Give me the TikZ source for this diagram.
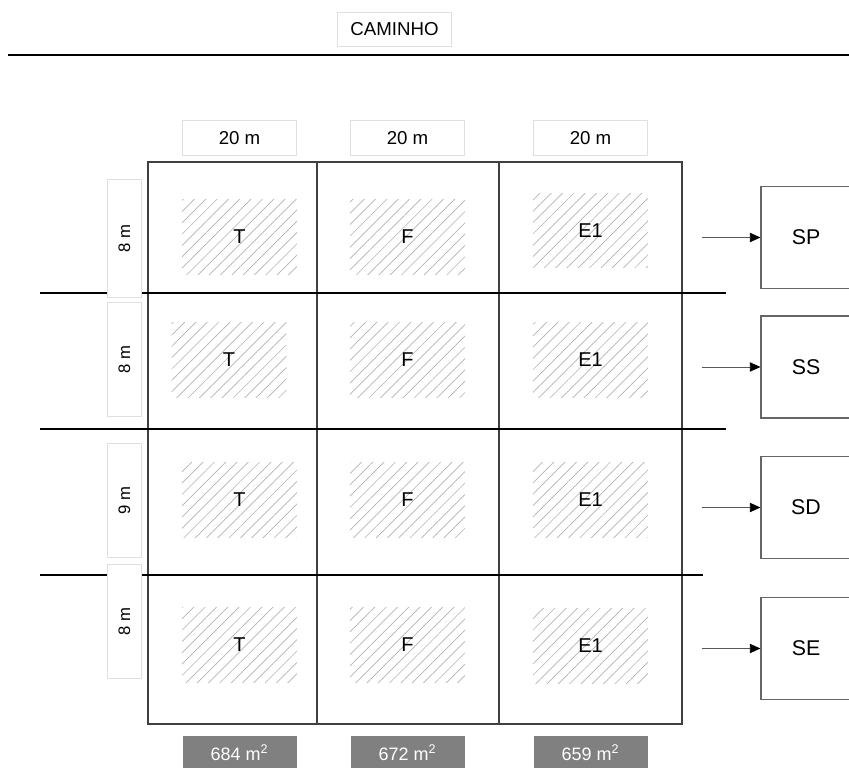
\documentclass[tikz,border=0pt]{standalone}
\usepackage{fontspec}
\setmainfont{Liberation Sans}
\usetikzlibrary{
  arrows.meta,
  calc,
  positioning,
  patterns.meta,
}

\begin{document}
\begin{tikzpicture}[
  x=0.75pt, y=-0.75pt,
  tag/.style={draw=gray!25, fill=white, inner sep=0pt, line width=0.6pt, font=\fontsize{14}{16}\selectfont},
  side/.style={tag, minimum height=26pt, font=\fontsize{12.5}{14}\selectfont},
  plot/.style={inner sep=0pt, minimum width=86pt, minimum height=56pt,
    pattern={Lines[angle=45, distance=6pt, line width=0.5pt]}, pattern color=gray!60,
    font=\fontsize{15}{17}\selectfont},
  sample/.style={draw=gray!80!black, line width=0.8pt, fill=white, inner sep=0pt,
    minimum width=67.5pt, font=\fontsize{16}{18}\selectfont},
  area/.style={fill=gray, text=white, inner sep=0pt,
    minimum width=85.5pt, minimum height=25.5pt, font=\fontsize{13.5}{15}\selectfont},
  road/.style={line width=2pt, black},
  cell/.style={line width=0.8pt, draw=black!75},
  feed/.style={line width=0.7pt, gray!70!black, -{Triangle[length=8pt, width=7pt, black]}}
]
\useasboundingbox (0,0) rectangle (849,767);

% caminho
\node[tag, minimum width=86pt, minimum height=25.5pt] (caminho) at (394.5,29) {CAMINHO};
\draw[road] (8,55) -- (849,55);

% largura das parcelas
\node[tag, minimum width=86pt, minimum height=26pt] (w1) at (239.5,138) {20 m};
\node[tag, minimum width=86pt, minimum height=26pt] (w2) at (407.5,138) {20 m};
\node[tag, minimum width=86pt, minimum height=26pt] (w3) at (590.5,138) {20 m};

% area experimental
\draw[cell] (148,162) rectangle (682,724);
\draw[cell] (317,162) -- (317,724);
\draw[cell] (499,162) -- (499,724);
\draw[road] (40,293) -- (726,293);
\draw[road] (40,429) -- (726,429);
\draw[road] (40,575) -- (703,575);

% comprimento dos blocos
\node[side, minimum width=88pt, rotate=90] (h1) at (124.5,238.5) {8 m};
\node[side, minimum width=86pt, rotate=90] (h2) at (124.5,359.5) {8 m};
\node[side, minimum width=85pt, rotate=90] (h3) at (124.5,500.5) {9 m};
\node[side, minimum width=85pt, rotate=90] (h4) at (124.5,621.5) {8 m};

% parcelas uteis
\node[plot] (t1) at (239.5,237) {T};
\node[plot] (f1) at (407.5,237) {F};
\node[plot] (e1) at (590.5,230.5) {E1};
\node[plot] (t2) at (229,360) {T};
\node[plot] (f2) at (407.5,360) {F};
\node[plot] (e2) at (590.5,360) {E1};
\node[plot] (t3) at (239.5,500) {T};
\node[plot] (f3) at (407.5,500) {F};
\node[plot] (e3) at (590.5,500) {E1};
\node[plot] (t4) at (239.5,645) {T};
\node[plot] (f4) at (407.5,645) {F};
\node[plot] (e4) at (590.5,646) {E1};

% amostras
\node[sample, minimum height=77pt] (sp) at (806,237.5) {SP};
\node[sample, minimum height=76.5pt] (ss) at (806,367) {SS};
\node[sample, minimum height=76pt] (sd) at (806,507.5) {SD};
\node[sample, minimum height=77pt] (se) at (806,648.5) {SE};
\coordinate (a1) at (702,237.5);
\coordinate (a2) at (702,367);
\coordinate (a3) at (702,507.5);
\coordinate (a4) at (702,648.5);
\draw[feed] (a1) -- (sp);
\draw[feed] (a2) -- (ss);
\draw[feed] (a3) -- (sd);
\draw[feed] (a4) -- (se);

% areas
\node[area] (m1) at (239.5,753) {684 m\textsuperscript{2}};
\node[area] (m2) at (407.5,753) {672 m\textsuperscript{2}};
\node[area] (m3) at (590.5,753) {659 m\textsuperscript{2}};
\end{tikzpicture}
\end{document}
